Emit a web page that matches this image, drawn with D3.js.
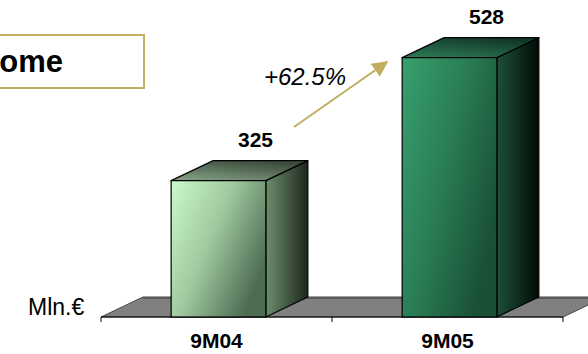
<!DOCTYPE html>
<html>
<head>
<meta charset="utf-8">
<script src="https://cdn.jsdelivr.net/npm/d3@7"></script>
<style>
  body { margin: 0; background: #fff; }
  svg { display: block; font-family: Arial, "Liberation Sans", sans-serif; }
</style>
</head>
<body>
<svg id="chart" width="588" height="354"></svg>
<script>
// data
var categories = ['9M04', '9M05']
var values = [325, 528]
var growthLabel = '+62.5%'
var unitLabel = 'Mln.\u20ac'
var titleText = 'Income'

var width = 588,
    height = 354,
    depthX = 42,
    depthY = 20

var svg = d3.select('#chart')
var defs = svg.append('defs')

// gradients for the two boxes: front, side, top
var palettes = [
  { front: ['#cbfacb', '#9fc89f', '#4e6c52'], side: ['#6d8d6d', '#1c261c'], top: ['#87a587', '#3c4c3c'] },
  { front: ['#37a06f', '#2a7e55', '#1a5035'], side: ['#1d5038', '#000c05'], top: ['#2f7d56', '#12382a'] }
]
palettes.forEach(function (p, i) {
  var g = defs.append('linearGradient').attr('id', 'front' + i)
    .attr('x1', 0).attr('y1', 0).attr('x2', 1).attr('y2', 0.6)
  g.append('stop').attr('offset', 0).attr('stop-color', p.front[0])
  g.append('stop').attr('offset', 0.5).attr('stop-color', p.front[1])
  g.append('stop').attr('offset', 1).attr('stop-color', p.front[2])
  var s = defs.append('linearGradient').attr('id', 'side' + i)
    .attr('x1', 0).attr('y1', 0).attr('x2', 1).attr('y2', 0)
  s.append('stop').attr('offset', 0).attr('stop-color', p.side[0])
  s.append('stop').attr('offset', 1).attr('stop-color', p.side[1])
  var t = defs.append('linearGradient').attr('id', 'top' + i)
    .attr('x1', 0).attr('y1', 1).attr('x2', 0.6).attr('y2', 0)
  t.append('stop').attr('offset', 0).attr('stop-color', p.top[0])
  t.append('stop').attr('offset', 1).attr('stop-color', p.top[1])
})

var x = d3.scaleBand()
  .domain(categories)
  .range([101, 563])
  .padding(0)

var y = d3.scaleLinear()
  .domain([100, 600])
  .range([317, 14])

var barW = x.bandwidth() * 0.41
var base = y.domain()[0]

// floor
var fx0 = x.range()[0], fx1 = x.range()[1], fy = y(base)
svg.append('path')
  .attr('d', 'M' + fx0 + ',' + fy + 'L' + fx1 + ',' + fy +
    'L' + (fx1 + depthX) + ',' + (fy - depthY) + 'L' + (fx0 + depthX) + ',' + (fy - depthY) + 'Z')
  .attr('fill', '#808080')
  .attr('stroke', '#444')
  .attr('stroke-width', 1)
svg.append('line')
  .attr('x1', fx0 + depthX).attr('x2', fx1 + depthX)
  .attr('y1', fy - depthY + 1).attr('y2', fy - depthY + 1)
  .attr('stroke', '#5a5a5a').attr('stroke-width', 2)

// ticks
var tickXs = categories.map(function (c) { return x(c) }).concat([x.range()[1]])
svg.selectAll('.tick').data(tickXs).enter().append('line')
  .attr('x1', function (d) { return d }).attr('x2', function (d) { return d })
  .attr('y1', fy).attr('y2', fy + 5)
  .attr('stroke', '#000').attr('stroke-width', 1)
svg.append('line')
  .attr('x1', fx0).attr('x2', fx1).attr('y1', fy).attr('y2', fy)
  .attr('stroke', '#000').attr('stroke-width', 1)

// boxes
var bars = svg.selectAll('.bar').data(values).enter().append('g')
bars.each(function (v, i) {
  var g = d3.select(this)
  var cx = x(categories[i]) + x.bandwidth() / 2 + 2
  var x0 = cx - barW / 2, x1 = cx + barW / 2
  var yt = y(v), yb = y(base)
  g.append('path')
    .attr('d', 'M' + x1 + ',' + yt + 'L' + (x1 + depthX) + ',' + (yt - depthY) +
      'L' + (x1 + depthX) + ',' + (yb - depthY) + 'L' + x1 + ',' + yb + 'Z')
    .attr('fill', 'url(#side' + i + ')')
    .attr('stroke', '#000').attr('stroke-width', 1.2).attr('stroke-linejoin', 'round')
  g.append('path')
    .attr('d', 'M' + x0 + ',' + yt + 'L' + (x0 + depthX) + ',' + (yt - depthY) +
      'L' + (x1 + depthX) + ',' + (yt - depthY) + 'L' + x1 + ',' + yt + 'Z')
    .attr('fill', 'url(#top' + i + ')')
    .attr('stroke', '#000').attr('stroke-width', 1.2).attr('stroke-linejoin', 'round')
  g.append('rect')
    .attr('x', x0).attr('y', yt).attr('width', barW).attr('height', yb - yt)
    .attr('fill', 'url(#front' + i + ')')
    .attr('stroke', '#000').attr('stroke-width', 1.2)
  g.append('text')
    .attr('x', cx + 37).attr('y', yt - 34)
    .attr('text-anchor', 'middle')
    .attr('font-size', 21).attr('font-weight', 'bold')
    .text(v)
})

// category labels
svg.selectAll('.cat').data(categories).enter().append('text')
  .attr('x', function (d) { return x(d) + x.bandwidth() / 2 })
  .attr('y', 348)
  .attr('text-anchor', 'middle')
  .attr('font-size', 21).attr('font-weight', 'bold')
  .text(function (d) { return d })

// unit label
svg.append('text')
  .attr('x', 28).attr('y', 315)
  .attr('font-size', 23)
  .text(unitLabel)

// title box (clipped at the left edge, as in the source slide)
svg.append('rect')
  .attr('x', -4).attr('y', 35).attr('width', 148).attr('height', 53)
  .attr('fill', '#fff').attr('stroke', '#c2b060').attr('stroke-width', 2)
svg.append('text')
  .attr('x', 63).attr('y', 72)
  .attr('text-anchor', 'end')
  .attr('font-size', 31).attr('font-weight', 'bold')
  .text(titleText)

// growth arrow
defs.append('marker').attr('id', 'head')
  .attr('viewBox', '0 0 10 10').attr('refX', 9).attr('refY', 5)
  .attr('markerWidth', 8).attr('markerHeight', 8).attr('orient', 'auto')
  .attr('markerUnits', 'strokeWidth')
  .append('path').attr('d', 'M0,0L10,5L0,10Z').attr('fill', '#bfae5f')
svg.append('line')
  .attr('x1', 294).attr('y1', 127).attr('x2', 387).attr('y2', 62)
  .attr('stroke', '#bfae5f').attr('stroke-width', 2)
  .attr('marker-end', 'url(#head)')
svg.append('text')
  .attr('x', 305).attr('y', 85)
  .attr('text-anchor', 'middle')
  .attr('font-size', 24).attr('font-style', 'italic')
  .text(growthLabel)
</script>
</body>
</html>
